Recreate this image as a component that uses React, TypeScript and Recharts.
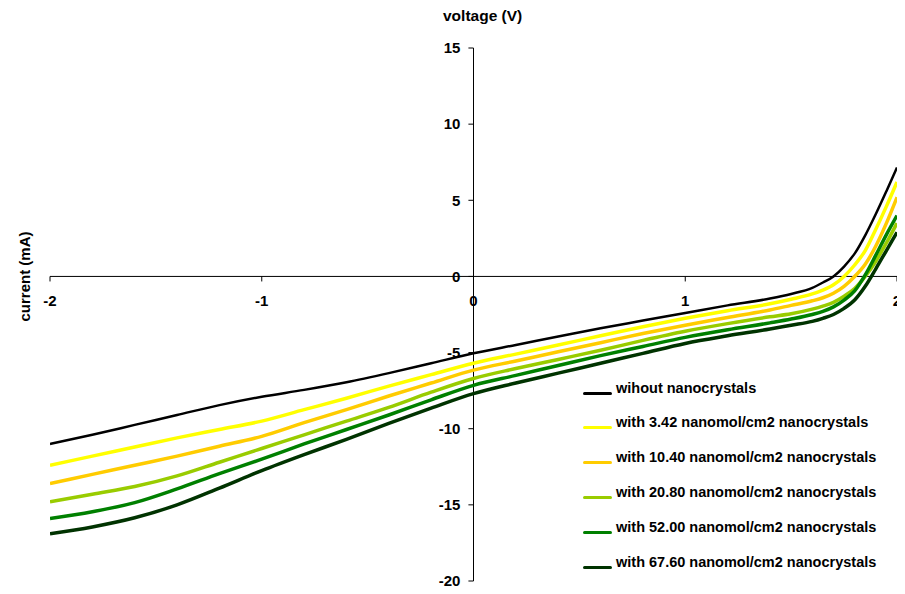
import React from 'react';
import { LineChart, Line, XAxis, YAxis, ReferenceLine, Legend } from 'recharts';

const voltage = [-2, -1.8, -1.6, -1.4, -1.2, -1.0, -0.8, -0.6, -0.4, -0.2, 0, 0.2, 0.4, 0.6, 0.8, 1.0, 1.2, 1.4, 1.5, 1.6, 1.65, 1.7, 1.75, 1.8, 1.85, 1.9, 1.95, 2.0];

const without = [-11.0, -10.4, -9.75, -9.1, -8.45, -7.9, -7.45, -6.95, -6.35, -5.7, -5.05, -4.5, -3.95, -3.4, -2.9, -2.4, -1.9, -1.45, -1.15, -0.75, -0.4, 0.0, 0.65, 1.5, 2.7, 4.1, 5.6, 7.15];
const c342 = [-12.4, -11.8, -11.2, -10.6, -10.05, -9.5, -8.75, -8.0, -7.2, -6.45, -5.7, -5.1, -4.5, -3.9, -3.3, -2.75, -2.25, -1.8, -1.5, -1.15, -0.9, -0.55, 0.0, 0.75, 1.7, 3.1, 4.6, 6.2];
const c1040 = [-13.6, -13.0, -12.4, -11.8, -11.15, -10.5, -9.6, -8.75, -7.85, -7.0, -6.15, -5.55, -4.95, -4.35, -3.75, -3.2, -2.7, -2.2, -1.9, -1.6, -1.4, -1.1, -0.65, 0.0, 0.8, 2.0, 3.5, 5.2];
const c2080 = [-14.8, -14.3, -13.8, -13.1, -12.2, -11.3, -10.4, -9.5, -8.6, -7.6, -6.7, -6.05, -5.45, -4.85, -4.2, -3.6, -3.1, -2.65, -2.45, -2.15, -1.95, -1.7, -1.3, -0.8, 0.0, 1.0, 2.2, 3.5];
const c5200 = [-15.9, -15.45, -14.85, -13.95, -12.95, -12.0, -11.0, -10.05, -9.1, -8.1, -7.15, -6.5, -5.85, -5.2, -4.6, -4.0, -3.5, -3.05, -2.8, -2.5, -2.3, -2.0, -1.55, -0.95, 0.1, 1.4, 2.75, 4.0];
const c6760 = [-16.9, -16.45, -15.85, -15.0, -13.9, -12.75, -11.7, -10.7, -9.65, -8.65, -7.7, -7.0, -6.35, -5.7, -5.05, -4.4, -3.9, -3.45, -3.2, -2.95, -2.75, -2.5, -2.1, -1.55, -0.65, 0.5, 1.7, 2.9];

const seriesNames = [
  'wihout nanocrystals',
  'with 3.42 nanomol/cm2 nanocrystals',
  'with 10.40 nanomol/cm2 nanocrystals',
  'with 20.80 nanomol/cm2 nanocrystals',
  'with 52.00 nanomol/cm2 nanocrystals',
  'with 67.60 nanomol/cm2 nanocrystals',
];
const seriesKeys = ['s0', 's1', 's2', 's3', 's4', 's5'];
const seriesValues = [without, c342, c1040, c2080, c5200, c6760];
const seriesColors = ['#000000', '#FFFF00', '#FFCC00', '#99CC00', '#008000', '#003300'];
const seriesWidths = [2.5, 3.5, 3.5, 3.5, 3.5, 3.5];

const xTicks = [-2, -1, 0, 1, 2];
const yTicks = [15, 10, 5, 0, -5, -10, -15, -20];

const data = voltage.map((x, i) => {
  const row: Record<string, number> = { x };
  seriesKeys.forEach((k, j) => {
    row[k] = seriesValues[j][i];
  });
  return row;
});

const FONT = '"Liberation Sans", Arial, sans-serif';

const renderLegend = (props: any) => {
  const payload = [...(props.payload || [])].sort(
    (a: any, b: any) => seriesNames.indexOf(a.value) - seriesNames.indexOf(b.value)
  );
  return (
    <div style={{ position: 'relative', width: 320, height: 6 * 34.8 }}>
      {payload.map((entry: any, i: number) => (
        <div key={i} style={{ position: 'absolute', left: 0, top: i * 34.8, height: 34.8, width: 320 }}>
          <div
            style={{
              position: 'absolute',
              left: 0,
              top: 17,
              width: 29,
              height: 3,
              background: entry.color,
              borderRadius: 1.5,
            }}
          />
          <span
            style={{
              position: 'absolute',
              left: 33,
              top: 6.2,
              fontFamily: FONT,
              fontWeight: 'bold',
              fontSize: 14.5,
              lineHeight: '14.5px',
              color: '#000',
              whiteSpace: 'nowrap',
            }}
          >
            {entry.value}
          </span>
        </div>
      ))}
    </div>
  );
};

export default function App() {
  return (
    <div style={{ position: 'relative', width: 897, height: 586, fontFamily: FONT }}>
      <div
        style={{
          position: 'absolute',
          left: 435,
          top: 0,
          fontWeight: 'bold',
          fontSize: 15.5,
          lineHeight: '15.5px',
          whiteSpace: 'nowrap',
          color: '#000',
        }}
      >
        voltage (V)
      </div>
      <div
        style={{
          position: 'absolute',
          left: 16 - 60,
          top: 268 - 7.5,
          width: 120,
          height: 15,
          textAlign: 'center',
          transform: 'rotate(-90deg)',
          fontWeight: 'bold',
          fontSize: 15,
          lineHeight: '15px',
          whiteSpace: 'nowrap',
          color: '#000',
        }}
      >
        current (mA)
      </div>
      <LineChart
        width={897}
        height={586}
        data={data}
        margin={{ top: 40, right: 8, bottom: 13, left: 42 }}
      >
        <XAxis type="number" dataKey="x" domain={[-2, 2]} hide allowDataOverflow />
        <YAxis type="number" domain={[-20, 15]} hide allowDataOverflow />
        <ReferenceLine y={0} stroke="#000" strokeWidth={1} />
        <ReferenceLine x={0} stroke="#000" strokeWidth={1} />
        {xTicks.map((t) => (
          <ReferenceLine
            key={'xt' + t}
            segment={[{ x: t, y: 0 }, { x: t, y: -0.33 }]}
            stroke="#000"
            strokeWidth={1}
            label={{ value: String(t), position: 'bottom', offset: 14, fill: '#000', fontSize: 15, fontWeight: 'bold', fontFamily: FONT }}
          />
        ))}
        {yTicks.map((t) => (
          <ReferenceLine
            key={'yt' + t}
            segment={[{ x: -0.024, y: t }, { x: 0, y: t }]}
            stroke="#000"
            strokeWidth={1}
            label={{ value: String(t), position: 'left', offset: 8, fill: '#000', fontSize: 15, fontWeight: 'bold', fontFamily: FONT }}
          />
        ))}
        {seriesKeys.map((k, j) => (
          <Line
            key={k}
            type="monotone"
            dataKey={k}
            name={seriesNames[j]}
            stroke={seriesColors[j]}
            strokeWidth={seriesWidths[j]}
            dot={false}
            activeDot={false}
            isAnimationActive={false}
          />
        ))}
        <Legend
          layout="vertical"
          align="center"
          verticalAlign="middle"
          content={renderLegend}
          wrapperStyle={{ position: 'absolute', left: 575, top: 366.5, width: 320 }}
        />
      </LineChart>
    </div>
  );
}
